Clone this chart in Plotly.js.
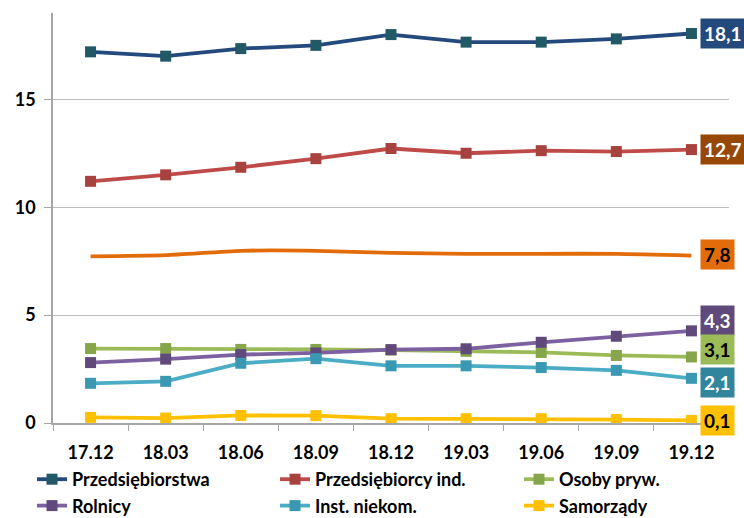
<!DOCTYPE html>
<html>
<head>
<meta charset="utf-8">
<script src="https://cdn.plot.ly/plotly-3.0.1.min.js"></script>
<style>html,body{margin:0;padding:0;background:#fff;}#chart{width:744px;height:518px;}</style>
</head>
<body>
<div id="chart"></div>
<script>
const categories = ['17.12','18.03','18.06','18.09','18.12','19.03','19.06','19.09','19.12'];

const przedsiebiorstwa = [17.2, 17.0, 17.35, 17.5, 18.0, 17.65, 17.65, 17.8, 18.05];
const przedsiebiorcyInd = [11.2, 11.5, 11.85, 12.25, 12.72, 12.5, 12.62, 12.58, 12.67];
const pozostale = [7.72, 7.78, 7.98, 7.98, 7.88, 7.84, 7.84, 7.84, 7.76];
const osobyPryw = [3.45, 3.45, 3.41, 3.41, 3.38, 3.32, 3.27, 3.13, 3.06];
const rolnicy = [2.8, 2.96, 3.17, 3.25, 3.4, 3.44, 3.74, 4.02, 4.27];
const instNiekom = [1.84, 1.93, 2.77, 2.98, 2.65, 2.65, 2.57, 2.44, 2.07];
const samorzady = [0.26, 0.23, 0.35, 0.34, 0.2, 0.2, 0.2, 0.16, 0.12];

const endLabels = ['18,1', '12,7', '7,8', '4,3', '3,1', '2,1', '0,1'];

const FONT = 'Lato, sans-serif';

const series = [
  {name: 'Przedsiębiorstwa', y: przedsiebiorstwa, line: '#24497C', marker: '#215967', legend: 'legend'},
  {name: 'Przedsiębiorcy ind.', y: przedsiebiorcyInd, line: '#BE4B48', marker: '#A8423F', legend: 'legend2'},
  {name: 'Osoby pryw.', y: osobyPryw, line: '#9BBB59', marker: '#87A64B', legend: 'legend3'},
  {name: 'Rolnicy', y: rolnicy, line: '#7D60A0', marker: '#604A7B', legend: 'legend'},
  {name: 'Inst. niekom.', y: instNiekom, line: '#4BACC6', marker: '#3A98B2', legend: 'legend2'},
  {name: 'Samorządy', y: samorzady, line: '#FFC000', marker: '#FFC000', legend: 'legend3'}
];

const traces = series.map(s => ({
  type: 'scatter', mode: 'lines+markers', name: s.name,
  x: categories, y: s.y,
  line: {color: s.line, width: 3.8},
  marker: {symbol: 'square', size: 11, color: s.marker},
  legend: s.legend
}));
traces.splice(2, 0, {
  type: 'scatter', mode: 'lines', name: 'Pozostałe',
  x: categories, y: pozostale,
  line: {color: '#E36C0A', width: 3.8, shape: 'spline', smoothing: 0.6},
  showlegend: false
});

const last = categories.length - 1;
const labelDefs = [
  {y: przedsiebiorstwa[last], text: endLabels[0], bg: '#24497C', fc: '#FFFFFF', ys: 0},
  {y: przedsiebiorcyInd[last], text: endLabels[1], bg: '#974806', fc: '#FFFFFF', ys: 0},
  {y: pozostale[last], text: endLabels[2], bg: '#E36C0A', fc: '#000000', ys: 1},
  {y: rolnicy[last], text: endLabels[3], bg: '#604A7B', fc: '#FFFFFF', ys: 10},
  {y: osobyPryw[last], text: endLabels[4], bg: '#9BBB59', fc: '#000000', ys: 7},
  {y: instNiekom[last], text: endLabels[5], bg: '#31859C', fc: '#FFFFFF', ys: -4},
  {y: samorzady[last], text: endLabels[6], bg: '#FFC000', fc: '#000000', ys: 0}
];

const annotations = labelDefs.map(d => ({
  x: last, y: d.y, xref: 'x', yref: 'y',
  text: '<b>' + d.text + '</b>', showarrow: false,
  xanchor: 'left', yanchor: 'middle', xshift: 9, yshift: d.ys,
  bgcolor: d.bg, borderpad: 3,
  font: {family: FONT, size: 19, color: d.fc}
}));

const legendBase = {
  orientation: 'v', xref: 'container', yref: 'container',
  yanchor: 'top', y: 1 - 461 / 518, xanchor: 'left',
  bgcolor: 'rgba(0,0,0,0)', tracegroupgap: 0, itemwidth: 30,
  font: {family: FONT, size: 18, weight: 'bold', color: '#000'}
};

const layout = {
  width: 744, height: 518,
  margin: {l: 53, r: 15, t: 13, b: 95, autoexpand: false},
  paper_bgcolor: '#FFFFFF', plot_bgcolor: '#FFFFFF',
  font: {family: FONT, size: 18, color: '#000000', weight: 'bold'},
  xaxis: {
    type: 'category', range: [-0.5, 8.5],
    showline: true, linecolor: '#A6A6A6', linewidth: 1.5,
    ticks: 'outside', tickson: 'boundaries', ticklen: 6, tickcolor: '#A6A6A6',
    showgrid: false, zeroline: false, ticklabelstandoff: 13, tickangle: 0,
    automargin: false,
    tickfont: {family: FONT, size: 18, weight: 'bold'}
  },
  yaxis: {
    range: [0, 19], tickvals: [0, 5, 10, 15],
    showline: true, linecolor: '#A6A6A6', linewidth: 1.5,
    ticks: 'outside', ticklen: 7, tickcolor: '#A6A6A6',
    showgrid: true, gridcolor: '#BFBFBF', gridwidth: 1.2,
    zeroline: false, automargin: false, ticklabelstandoff: 5,
    tickfont: {family: FONT, size: 18, weight: 'bold'}
  },
  legend: Object.assign({}, legendBase, {x: 32 / 744}),
  legend2: Object.assign({}, legendBase, {x: 275 / 744}),
  legend3: Object.assign({}, legendBase, {x: 519 / 744}),
  annotations: annotations
};

Plotly.newPlot('chart', traces, layout, {displayModeBar: false});
</script>
</body>
</html>
